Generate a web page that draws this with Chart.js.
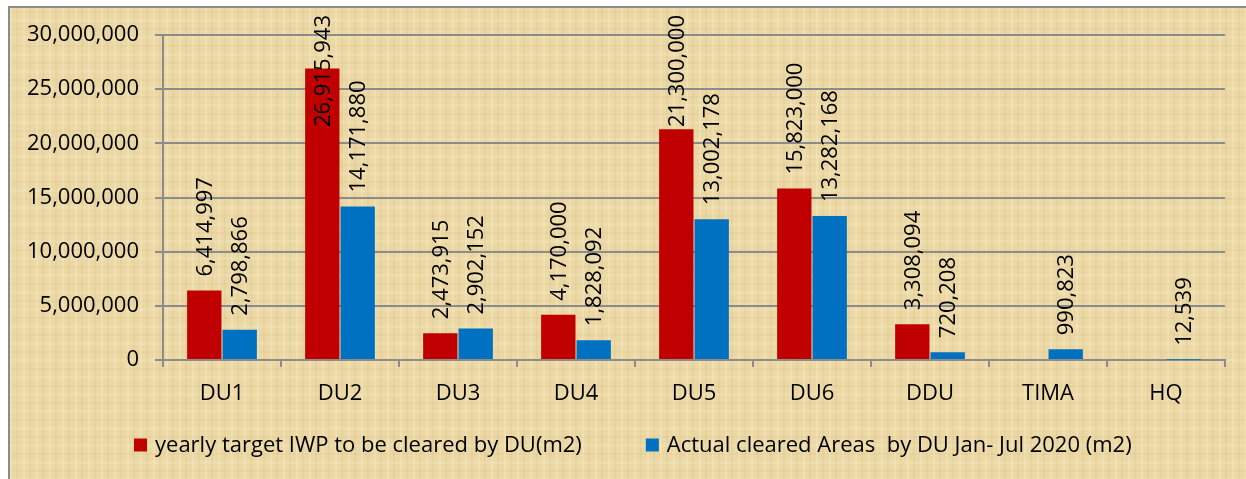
<!DOCTYPE html>
<html>
<head>
<meta charset="utf-8">
<script src="https://cdn.jsdelivr.net/npm/chart.js@4.4.0/dist/chart.umd.min.js"></script>
<style>
  html, body { margin: 0; padding: 0; background: #fff; }
  #wrap { position: relative; width: 1246px; height: 479px; overflow: hidden; }
  #paper {
    position: absolute; left: 8px; top: 6px; width: 1260px; height: 490px;
    border: 2px solid #8c8c8c;
    background-color: #ebd8a5;
    background-image:
      repeating-linear-gradient(90deg, rgba(255,248,220,0.22) 0 2px, transparent 2px 6px, rgba(170,140,70,0.08) 6px 8px, transparent 8px 13px),
      repeating-linear-gradient(0deg, rgba(255,248,220,0.15) 0 3px, transparent 3px 9px, rgba(170,140,70,0.06) 9px 11px, transparent 11px 17px);
  }
  #c { position: absolute; left: 0; top: 0; }
</style>
</head>
<body>
<div id="wrap">
  <div id="paper"></div>
  <canvas id="c" width="1246" height="479"></canvas>
</div>
<script>
const categories = ["DU1", "DU2", "DU3", "DU4", "DU5", "DU6", "DDU", "TIMA", "HQ"];
const targetValues = [6414997, 26915943, 2473915, 4170000, 21300000, 15823000, 3308094, null, null];
const clearedValues = [2798866, 14171880, 2902152, 1828092, 13002178, 13282168, 720208, 990823, 12539];
const seriesNames = ["yearly target IWP to be cleared by DU(m2)", "Actual cleared Areas  by DU Jan- Jul 2020 (m2)"];
const seriesColors = ["#c00000", "#0070c0"];
const yTicks = [0, 5000000, 10000000, 15000000, 20000000, 25000000, 30000000];

const FONT = "'Open Sans', sans-serif";

// rotated value labels above the bars, kept inside the top of the picture
const barLabels = {
  id: "barLabels",
  afterDatasetsDraw(chart) {
    const ctx = chart.ctx;
    ctx.save();
    ctx.font = "22px " + FONT;
    ctx.fillStyle = "#000";
    ctx.textAlign = "left";
    ctx.textBaseline = "middle";
    chart.data.datasets.forEach((ds, di) => {
      const meta = chart.getDatasetMeta(di);
      meta.data.forEach((bar, i) => {
        const v = ds.data[i];
        if (v === null || v === undefined) return;
        const txt = v.toLocaleString("en-US");
        const w = ctx.measureText(txt).width;
        let yStart = bar.y - 14;
        if (yStart - w < 15) yStart = 15 + w;
        ctx.save();
        ctx.translate(bar.x, yStart);
        ctx.rotate(-Math.PI / 2);
        ctx.fillText(txt, 0, 1);
        ctx.restore();
      });
    });
    ctx.restore();
  }
};

// legend at the bottom, wide spacing between the two entries like the original
const bottomLegend = {
  id: "bottomLegend",
  afterDraw(chart) {
    const ctx = chart.ctx;
    ctx.save();
    ctx.font = "22px " + FONT;
    ctx.textBaseline = "middle";
    ctx.textAlign = "left";
    const y = 445, box = 13, gapText = 8, gapItem = 64;
    let x = 134;
    chart.data.datasets.forEach((ds, i) => {
      ctx.fillStyle = seriesColors[i];
      ctx.fillRect(x, y - box / 2, box, box);
      x += box + gapText;
      ctx.fillStyle = "#000";
      ctx.fillText(ds.label, x, y + 1);
      x += ctx.measureText(ds.label).width + gapItem;
    });
    ctx.restore();
  }
};

new Chart(document.getElementById("c"), {
  type: "bar",
  data: {
    labels: categories,
    datasets: [
      { label: seriesNames[0], data: targetValues, backgroundColor: seriesColors[0] },
      { label: seriesNames[1], data: clearedValues, backgroundColor: seriesColors[1] }
    ]
  },
  options: {
    responsive: false,
    animation: false,
    events: [],
    layout: { padding: { left: 0, right: 21, top: 35, bottom: 59 } },
    datasets: { bar: { categoryPercentage: 0.6, barPercentage: 0.97 } },
    scales: {
      x: {
        afterFit(axis) { axis.height = 60; },
        grid: { display: true, drawOnChartArea: false, drawTicks: true, tickLength: 7, color: "#8c8c8c", lineWidth: 2, offset: true },
        border: { color: "#8c8c8c", width: 2 },
        ticks: { color: "#000", font: { family: FONT, size: 22 }, padding: 14 }
      },
      y: {
        min: 0, max: 30000000,
        afterFit(axis) { axis.width = 163; },
        afterBuildTicks(axis) { axis.ticks = yTicks.map(v => ({ value: v })); },
        grid: { color: "#8c8c8c", lineWidth: 2, tickLength: 8 },
        border: { color: "#8c8c8c", width: 2 },
        ticks: { color: "#000", font: { family: FONT, size: 22 }, padding: 16,
          callback: v => v.toLocaleString("en-US") }
      }
    },
    plugins: {
      tooltip: { enabled: false },
      legend: { display: false }
    }
  },
  plugins: [barLabels, bottomLegend]
});
</script>
</body>
</html>
